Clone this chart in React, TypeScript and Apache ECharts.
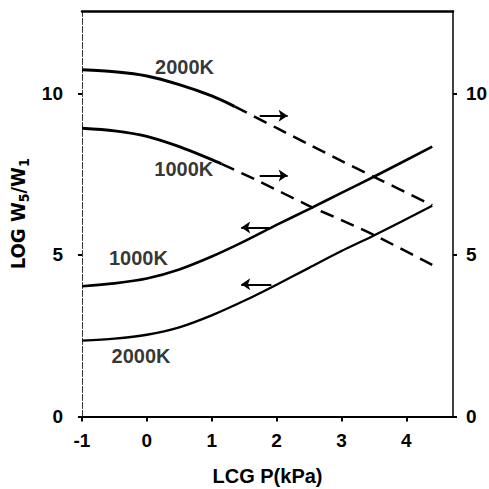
import React, { useEffect, useRef } from "react";
import * as echarts from "echarts";

// Upper family (right-hand scale): solid at low pressure, dashed beyond
const hi2000SolidX = [-1, -0.5, 0, 0.5, 1, 1.35];
const hi2000SolidY = [10.73, 10.67, 10.54, 10.27, 9.92, 9.6];
const hi2000DashX = [1.35, 2, 2.5, 3, 3.5, 4.4];
const hi2000DashY = [9.6, 8.93, 8.42, 7.91, 7.42, 6.54];

const hi1000SolidX = [-1, -0.5, 0, 0.5, 1, 1.15];
const hi1000SolidY = [8.92, 8.84, 8.67, 8.35, 7.95, 7.82];
const hi1000DashX = [1.15, 1.74, 2.5, 3, 3.5, 4.4];
const hi1000DashY = [7.82, 7.27, 6.52, 6.08, 5.62, 4.69];

// Lower family (left-hand scale): rising with pressure
const lo1000X = [-1, -0.5, 0, 0.5, 1, 1.5, 2, 2.5, 3, 3.5, 4.4];
const lo1000Y = [4.03, 4.12, 4.27, 4.55, 4.95, 5.42, 5.93, 6.42, 6.92, 7.42, 8.35];
const lo2000X = [-1, -0.5, 0, 0.5, 1, 1.5, 2, 2.5, 3, 3.5, 4.4];
const lo2000Y = [2.35, 2.41, 2.53, 2.76, 3.13, 3.58, 4.08, 4.6, 5.12, 5.6, 6.52];

// Curve captions: [x, y, text]
const captions: [number, number, string][] = [
  [0.58, 10.82, "2000K"],
  [0.57, 7.66, "1000K"],
  [-0.13, 4.9, "1000K"],
  [-0.09, 1.87, "2000K"],
];

// Arrows showing which scale each family belongs to: [x0, x1, y]
const arrows: [number, number, number][] = [
  [1.74, 2.17, 9.31],
  [1.74, 2.17, 7.46],
  [1.89, 1.455, 5.85],
  [1.92, 1.455, 4.09],
];

const xTicks = [-1, 0, 1, 2, 3, 4];
const yTicks = [0, 5, 10];

const FONT = "'Liberation Sans', Arial, sans-serif";
const NARROW = "'Liberation Sans Narrow', 'DejaVu Sans Condensed', " + FONT;
const INK = "#000";

function pairs(xs: number[], ys: number[]) {
  return xs.map((x, i) => [x, ys[i]]);
}

function curve(name: string, xs: number[], ys: number[], width: number, dashed: boolean) {
  return {
    name,
    type: "line",
    data: pairs(xs, ys),
    smooth: 0.3,
    showSymbol: false,
    symbol: "none",
    lineStyle: {
      color: INK,
      width,
      type: dashed ? [14, 8] : "solid",
      cap: "butt",
    },
    z: 3,
  };
}

export default function App() {
  const ref = useRef<HTMLDivElement>(null);

  useEffect(() => {
    if (!ref.current) return;
    const chart = echarts.init(ref.current, null, { renderer: "svg" });

    const tickLabel = {
      customValues: yTicks,
      color: INK,
      fontSize: 19,
      fontWeight: "bold",
      fontFamily: FONT,
    };

    const yAxisBase = {
      type: "value",
      min: 0,
      max: 12.55,
      splitLine: { show: false },
      axisTick: {
        show: true,
        length: 4,
        customValues: yTicks,
        lineStyle: { color: INK, width: 2 },
      },
    };

    chart.setOption({
      animation: false,
      backgroundColor: "#fff",
      grid: {
        left: 82,
        right: 36,
        top: 11,
        bottom: 72.5,
        containLabel: false,
        outerBoundsMode: "none",
      },
      xAxis: [
        {
          type: "value",
          min: -1,
          max: 4.72,
          position: "bottom",
          name: "LCG P(kPa)",
          nameLocation: "middle",
          nameGap: 49,
          nameTextStyle: { color: INK, fontSize: 20, fontWeight: "bold", fontFamily: FONT },
          splitLine: { show: false },
          axisLine: { show: true, onZero: false, lineStyle: { color: INK, width: 2 } },
          axisTick: {
            show: true,
            length: 5,
            customValues: xTicks,
            lineStyle: { color: INK, width: 2 },
          },
          axisLabel: {
            customValues: xTicks,
            margin: 14,
            color: INK,
            fontSize: 19,
            fontWeight: "bold",
            fontFamily: FONT,
            formatter: (v: number) => String(v),
          },
        },
        {
          type: "value",
          min: -1,
          max: 4.72,
          position: "top",
          splitLine: { show: false },
          axisLine: { show: true, onZero: false, lineStyle: { color: INK, width: 2.5 } },
          axisTick: { show: false },
          axisLabel: { show: false },
        },
      ],
      yAxis: [
        {
          ...yAxisBase,
          position: "left",
          name: "{m|LOG W}{s|5}{m|/W}{s|1}",
          nameLocation: "middle",
          nameRotate: 90,
          nameGap: 50,
          nameTextStyle: {
            color: INK,
            rich: {
              m: {
                fontSize: 20,
                fontWeight: "bold",
                fontFamily: NARROW,
                lineHeight: 26,
                color: INK,
              },
              s: {
                fontSize: 14,
                fontWeight: "bold",
                fontFamily: NARROW,
                verticalAlign: "bottom",
                color: INK,
              },
            },
          },
          axisLine: { show: true, onZero: false, lineStyle: { color: "#333", width: 1, type: [6, 2] } },
          axisLabel: { ...tickLabel, margin: 19 },
        },
        {
          ...yAxisBase,
          position: "right",
          axisLine: { show: true, onZero: false, lineStyle: { color: INK, width: 1.5 } },
          axisLabel: { ...tickLabel, margin: 13 },
        },
      ],
      series: [
        curve("2000K high", hi2000SolidX, hi2000SolidY, 3, false),
        curve("2000K high dashed", hi2000DashX, hi2000DashY, 2.5, true),
        curve("1000K high", hi1000SolidX, hi1000SolidY, 3, false),
        curve("1000K high dashed", hi1000DashX, hi1000DashY, 2.5, true),
        curve("1000K low", lo1000X, lo1000Y, 2.6, false),
        curve("2000K low", lo2000X, lo2000Y, 2.3, false),
        {
          name: "arrows",
          type: "lines",
          coordinateSystem: "cartesian2d",
          xAxisIndex: 0,
          yAxisIndex: 0,
          symbol: ["none", "arrow"],
          symbolSize: [0, 9],
          lineStyle: { color: INK, width: 2, opacity: 1, curveness: 0 },
          data: arrows.map(([x0, x1, y]) => ({ coords: [[x0, y], [x1, y]] })),
          z: 4,
        },
        {
          name: "captions",
          type: "scatter",
          symbolSize: 1,
          itemStyle: { color: "rgba(0,0,0,0)" },
          data: captions.map(([x, y, t]) => ({ value: [x, y], name: t })),
          label: {
            show: true,
            position: "inside",
            formatter: (p: any) => p.name,
            color: INK,
            fontSize: 20,
            fontWeight: "bold",
            fontFamily: FONT,
          },
          silent: true,
          z: 5,
        },
      ],
    });

    return () => chart.dispose();
  }, []);

  return (
    <div
      ref={ref}
      style={{ position: "fixed", left: 0, top: 0, width: 489, height: 489, background: "#fff" }}
    />
  );
}
